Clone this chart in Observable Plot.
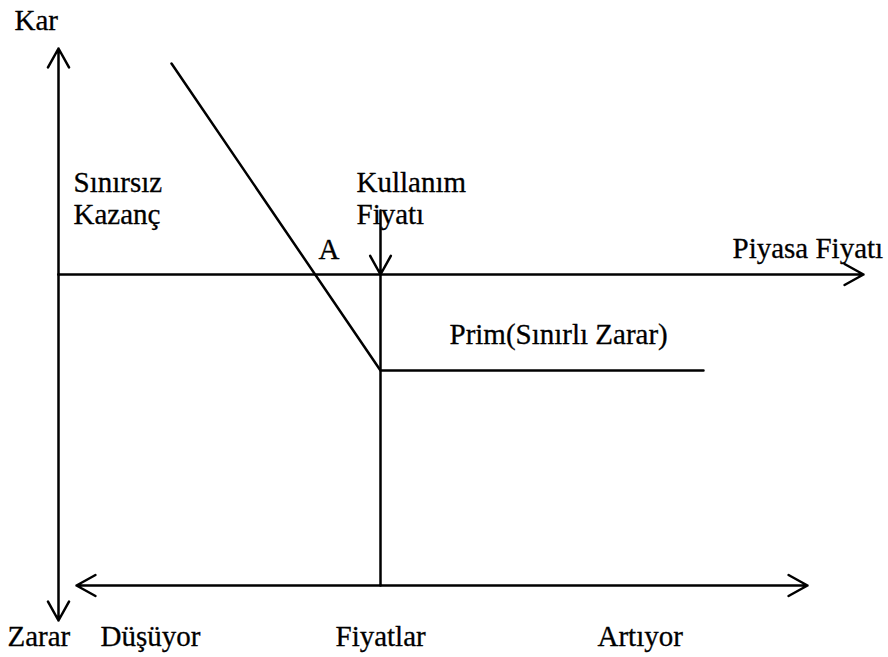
<!DOCTYPE html>
<html>
<head>
<meta charset="utf-8">
<script src="https://cdn.jsdelivr.net/npm/d3@7"></script>
<script src="https://cdn.jsdelivr.net/npm/@observablehq/plot@0.6"></script>
<style>
  html, body { margin: 0; padding: 0; background: #fff; }
  #chart { width: 888px; height: 657px; }
  #chart svg, #chart svg text { font-family: "Liberation Serif", "Times New Roman", serif !important; }
</style>
</head>
<body>
<div id="chart"></div>
<script>
// Conceptual frame: x = market price position (0 at the profit axis), y = profit (0 on the price axis)
const strike = 322;
const premiumLevel = -96;

// Put-option payoff line (price, profit)
const payoffPrice = [113, 322, 645];
const payoffProfit = [211, -96, -96];

// Axes drawn as arrows: from origin to tip
const axisFromX = [0, 0, 0];
const axisFromY = [0, 0, 0];
const axisToX = [0, 0, 805];
const axisToY = [226, -346, 0];

// Strike marker arrow and strike vertical
const strikeArrowTop = 64;
const strikeLineBottom = -311;

// Bottom "price direction" double arrow
const directionLevel = -311;
const directionLeft = 18;
const directionRight = 749;

// Labels
const labelText = ["Kar", "Sınırsız\nKazanç", "Kullanım\nFiyatı", "A", "Piyasa Fiyatı",
  "Prim(Sınırlı Zarar)", "Zarar", "Düşüyor", "Fiyatlar", "Artıyor"];
const labelX = [-44, 15, 298, 260, 674, 391, -51, 42, 277, 539];
const labelY = [245, 51, 51, 16, 17, -69, -371, -371, -371, -371];

const payoff = payoffPrice.map((p, i) => ({p, v: payoffProfit[i]}));
const axes = axisFromX.map((_, i) => ({x1: axisFromX[i], y1: axisFromY[i], x2: axisToX[i], y2: axisToY[i]}));
const arrows = [
  ...axes,
  {x1: strike, y1: strikeArrowTop, x2: strike, y2: 0},
  {x1: strike, y1: directionLevel, x2: directionLeft, y2: directionLevel},
  {x1: strike, y1: directionLevel, x2: directionRight, y2: directionLevel}
];
const strikeLine = [{x1: strike, y1: 0, x2: strike, y2: strikeLineBottom}];
const labels = labelText.map((t, i) => ({t, x: labelX[i], y: labelY[i]}));

const chart = Plot.plot({
  width: 888,
  height: 657,
  margin: 0,
  x: {domain: [-58, 830], range: [0, 888], axis: null},
  y: {domain: [-383, 274], range: [657, 0], axis: null},
  style: {fontFamily: "Liberation Serif, serif", background: "#fff"},
  marks: [
    Plot.arrow(arrows, {x1: "x1", y1: "y1", x2: "x2", y2: "y2", stroke: "black", strokeWidth: 2.5, headLength: 13, headAngle: 58}),
    Plot.link(strikeLine, {x1: "x1", y1: "y1", x2: "x2", y2: "y2", stroke: "black", strokeWidth: 2.5}),
    Plot.line(payoff, {x: "p", y: "v", stroke: "black", strokeWidth: 2.5}),
    Plot.text(labels, {x: "x", y: "y", text: "t", textAnchor: "start", lineAnchor: "bottom",
      fontSize: 29, lineHeight: 1.07, fill: "black", stroke: "black", strokeWidth: 0.3,
      fontFamily: "Liberation Serif, serif"})
  ]
});
document.getElementById("chart").append(chart);
</script>
</body>
</html>
